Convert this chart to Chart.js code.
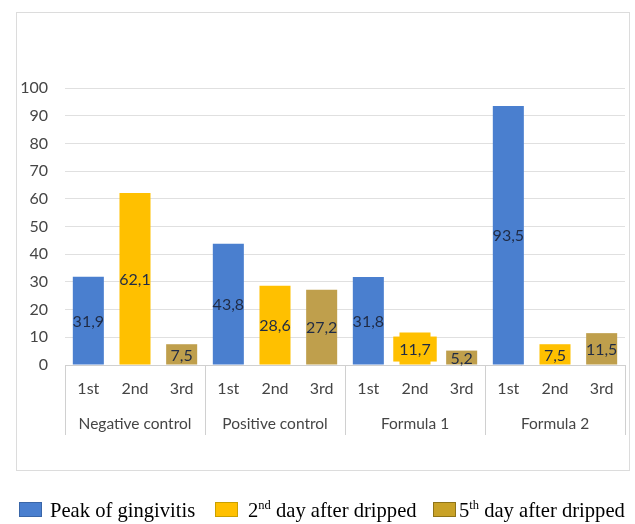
<!DOCTYPE html>
<html>
<head>
<meta charset="utf-8">
<script src="https://cdn.jsdelivr.net/npm/chart.js@4.4.1/dist/chart.umd.min.js"></script>
<style>
  html, body { margin: 0; padding: 0; background: #ffffff; }
  #wrap { width: 635px; height: 524px; position: relative; }
</style>
</head>
<body>
<div id="wrap"><canvas id="c" width="635" height="524"></canvas></div>
<script>
// ---- data ----
const groups = ['Negative control', 'Positive control', 'Formula 1', 'Formula 2'];
const subLabels = ['1st', '2nd', '3rd'];
const yTicks = [0, 10, 20, 30, 40, 50, 60, 70, 80, 90, 100];
const peakValues = [31.9, 43.8, 31.8, 93.5];
const day2Values = [62.1, 28.6, 11.7, 7.5];
const day5Values = [7.5, 27.2, 5.2, 11.5];
const seriesNames = ['Peak of gingivitis', '2nd day after dripped', '5th day after dripped'];

// ---- build chart table ----
const xLabels = [];
groups.forEach(() => subLabels.forEach(s => xLabels.push(s)));
function place(values, offset) {
  const arr = new Array(groups.length * subLabels.length).fill(null);
  values.forEach((v, g) => { arr[g * subLabels.length + offset] = v; });
  return arr;
}
const colors = ['#4a7fcf', '#ffc000', '#bf9f4c'];
const legendColors = ['#4a7fcf', '#ffc000', '#c9a227'];
const legendBorders = ['#3a66a8', '#c9a000', '#8f7418'];

const labelFont = '"Lato", "Liberation Sans", sans-serif';
const tickColor = '#454545';

const framePlugin = {
  id: 'frame',
  beforeDraw(chart) {
    const ctx = chart.ctx;
    ctx.save();
    ctx.fillStyle = '#ffffff';
    ctx.fillRect(0, 0, chart.width, chart.height);
    ctx.strokeStyle = '#dcdcdc';
    ctx.lineWidth = 1;
    ctx.strokeRect(16.5, 12.5, 613, 458);
    ctx.restore();
  }
};

const separatorPlugin = {
  id: 'separators',
  afterDraw(chart) {
    const x = chart.scales.x;
    const ctx = chart.ctx;
    const slot = (x.right - x.left) / xLabels.length;
    ctx.save();
    ctx.strokeStyle = '#d0d0d0';
    ctx.lineWidth = 1;
    for (let g = 0; g <= groups.length; g++) {
      let px;
      if (g === groups.length) px = x.getPixelForValue(xLabels.length - 1) + slot / 2;
      else px = x.getPixelForValue(g * subLabels.length) - slot / 2;
      px = Math.round(px) + 0.5;
      ctx.beginPath();
      ctx.moveTo(px, chart.chartArea.bottom);
      ctx.lineTo(px, chart.chartArea.bottom + 70);
      ctx.stroke();
    }
    ctx.restore();
  }
};

const valueLabelPlugin = {
  id: 'valueLabels',
  afterDatasetsDraw(chart) {
    const ctx = chart.ctx;
    ctx.save();
    ctx.font = '16px ' + labelFont;
    ctx.textAlign = 'center';
    ctx.textBaseline = 'middle';
    chart.data.datasets.forEach((ds, di) => {
      const meta = chart.getDatasetMeta(di);
      meta.data.forEach((el, i) => {
        const v = ds.data[i];
        if (v === null || v === undefined) return;
        const cy = (el.y + el.base) / 2;
        const txt = String(v).replace('.', ',');
        if (di === 1 && v < 20) {
          const w = Math.max(ctx.measureText(txt).width + (v > 10 ? 12 : 0), 0);
          ctx.fillStyle = colors[1];
          if (v > 10) ctx.fillRect(el.x - w / 2, cy - 12, w, 25);
        }
        ctx.fillStyle = '#1f2b45';
        ctx.fillText(txt, el.x, cy + 1);
      });
    });
    ctx.restore();
  }
};

const legendPlugin = {
  id: 'customLegend',
  afterDraw(chart) {
    const ctx = chart.ctx;
    const parts = [
      [['Peak of gingivitis', false]],
      [['2', false], ['nd', true], [' day after dripped', false]],
      [['5', false], ['th', true], [' day after dripped', false]]
    ];
    const boxX = [19, 215, 433];
    const textX = [50, 248, 459];
    const cy = 510;
    ctx.save();
    ctx.textBaseline = 'alphabetic';
    ctx.textAlign = 'left';
    parts.forEach((p, i) => {
      ctx.fillStyle = legendColors[i];
      ctx.fillRect(boxX[i], cy - 8, 23, 15);
      ctx.strokeStyle = legendBorders[i];
      ctx.lineWidth = 1;
      ctx.strokeRect(boxX[i] + 0.5, cy - 7.5, 22, 14);
      let tx = textX[i];
      ctx.fillStyle = '#000000';
      p.forEach(([t, sup]) => {
        ctx.font = (sup ? '12.5px' : '20.6px') + ' "Liberation Serif", "Times New Roman", serif';
        ctx.fillText(t, tx, cy + 7 - (sup ? 8 : 0));
        tx += ctx.measureText(t).width;
      });
    });
    ctx.restore();
  }
};

new Chart(document.getElementById('c'), {
  type: 'bar',
  data: {
    labels: xLabels,
    datasets: [
      { label: seriesNames[0], data: place(peakValues, 0), backgroundColor: colors[0] },
      { label: seriesNames[1], data: place(day2Values, 1), backgroundColor: colors[1] },
      { label: seriesNames[2], data: place(day5Values, 2), backgroundColor: colors[2] }
    ]
  },
  options: {
    responsive: false,
    animation: false,
    devicePixelRatio: 1,
    layout: { padding: { top: 88, right: 10, left: 0, bottom: 74 } },
    datasets: { bar: { grouped: false, barPercentage: 0.665, categoryPercentage: 1 } },
    plugins: { legend: { display: false }, tooltip: { enabled: false } },
    scales: {
      y: {
        min: 0, max: 100,
        afterBuildTicks(s) { s.ticks = yTicks.map(v => ({ value: v })); },
        afterFit(s) { s.width = 65; },
        grid: { color: '#e0e0e0', drawTicks: false },
        border: { display: false },
        ticks: { padding: 17, color: tickColor, font: { family: labelFont, size: 16 } }
      },
      x: {
        weight: 0,
        afterFit(s) { s.height = 45; },
        grid: { display: false, drawTicks: false },
        border: { display: true, color: '#d0d0d0' },
        ticks: { padding: 14, color: tickColor, maxRotation: 0, autoSkip: false, font: { family: labelFont, size: 16 } }
      },
      x2: {
        type: 'category',
        position: 'bottom',
        weight: 1,
        labels: groups,
        offset: true,
        afterFit(s) { s.height = 40; },
        grid: { display: false, drawTicks: false },
        border: { display: false },
        ticks: { padding: 5, color: tickColor, maxRotation: 0, autoSkip: false, font: { family: labelFont, size: 15.5 } }
      }
    }
  },
  plugins: [framePlugin, separatorPlugin, valueLabelPlugin, legendPlugin]
});
</script>
</body>
</html>
